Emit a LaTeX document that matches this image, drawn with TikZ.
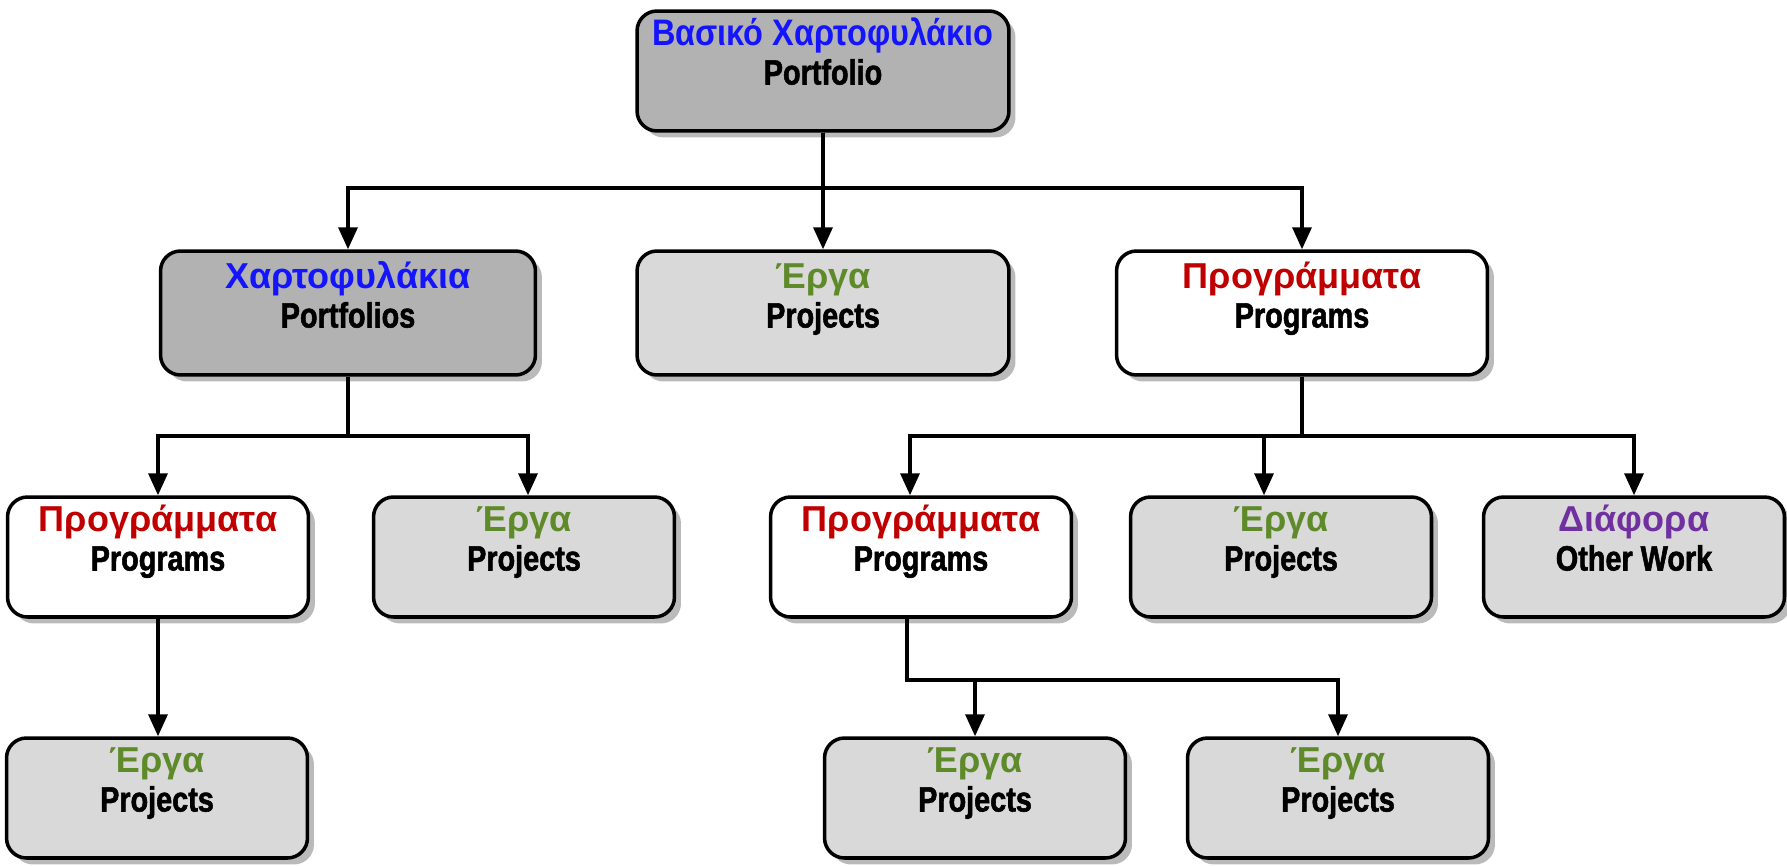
\documentclass[tikz,border=0pt]{standalone}
\usepackage{fontspec}
\setmainfont{Liberation Sans}
\newfontfamily\enfont[FakeStretch=0.82,BoldFeatures={FakeBold=1.6}]{Liberation Sans}
\newfontfamily\topfont[FakeStretch=0.88]{Liberation Sans}
\usetikzlibrary{arrows.meta,shadows}
\definecolor{grblue}{RGB}{20,20,255}
\definecolor{grred}{RGB}{192,0,0}
\definecolor{grgreen}{RGB}{94,138,42}
\definecolor{grpurple}{RGB}{112,48,160}
\definecolor{darkbox}{RGB}{178,178,178}
\definecolor{lightbox}{RGB}{217,217,217}
\newcommand\grtxt[2]{{\rmfamily\bfseries\fontsize{20.5}{22}\selectfont\color{#1}#2}}
\tikzset{
  box/.style={draw, line width=2pt, rounded corners=0.4cm,
    minimum width=6.02cm, minimum height=2.4cm, inner sep=0pt,
    align=center, text height=1.47cm, text depth=0.93cm,
    font=\enfont\bfseries\fontsize{20}{22}\selectfont,
    drop shadow={shadow xshift=0.13cm, shadow yshift=-0.13cm,
      fill=black!45, opacity=0.6}},
  bigbox/.style={box, fill=darkbox},
  prjbox/.style={box, fill=lightbox},
  prgbox/.style={box, fill=white},
  arr/.style={line width=2pt, -{Triangle[length=0.44cm,width=0.38cm]}}
}
\begin{document}
\begin{tikzpicture}[x=0.02cm,y=-0.02cm]
  \useasboundingbox (0,0) rectangle (1787,865);
  \node[bigbox, minimum width=7.44cm] (top) at (823,71)
    {{\topfont\fontsize{21}{22}\selectfont\color{grblue}Βασικό Χαρτοφυλάκιο}\\Portfolio};
  \node[bigbox, minimum width=7.5cm, minimum height=2.48cm, text height=1.53cm, text depth=0.95cm]
    (pf) at (348,313) {\grtxt{grblue}{Χαρτοφυλάκια}\\Portfolios};
  \node[prjbox, minimum width=7.44cm, minimum height=2.48cm, text height=1.53cm, text depth=0.95cm]
    (prjA) at (823,313) {\grtxt{grgreen}{Έργα}\\Projects};
  \node[prgbox, minimum width=7.42cm, minimum height=2.48cm, text height=1.53cm, text depth=0.95cm]
    (prgA) at (1302,313) {\grtxt{grred}{Προγράμματα}\\Programs};
  \node[prgbox] (prgB) at (158,557) {\grtxt{grred}{Προγράμματα}\\Programs};
  \node[prjbox] (prjB) at (524,557) {\grtxt{grgreen}{Έργα}\\Projects};
  \node[prgbox] (prgC) at (921,557) {\grtxt{grred}{Προγράμματα}\\Programs};
  \node[prjbox] (prjC) at (1281,557) {\grtxt{grgreen}{Έργα}\\Projects};
  \node[prjbox] (oth) at (1634,557) {\grtxt{grpurple}{Διάφορα}\\Other Work};
  \node[prjbox] (prjD) at (157,798) {\grtxt{grgreen}{Έργα}\\Projects};
  \node[prjbox] (prjE) at (975,798) {\grtxt{grgreen}{Έργα}\\Projects};
  \node[prjbox] (prjF) at (1338,798) {\grtxt{grgreen}{Έργα}\\Projects};
  \begin{scope}[arr]
    \draw (top.south) -- ++(0,55) -| (pf.north);
    \draw (top.south) -- (prjA.north);
    \draw (top.south) -- ++(0,55) -| (prgA.north);
    \draw (pf.south) -- ++(0,59) -| (prgB.north);
    \draw (pf.south) -- ++(0,59) -| ([xshift=0.08cm]prjB.north);
    \draw (prgA.south) -- ++(0,59) -| ([xshift=-0.22cm]prgC.north);
    \draw (prgA.south) -- ++(0,59) -| ([xshift=-0.34cm]prjC.north);
    \draw (prgA.south) -- ++(0,59) -| (oth.north);
    \draw (prgB.south) -- (prgB.south |- prjD.north);
    \draw ([xshift=-0.28cm]prgC.south) -- ++(0,61) -| (prjE.north);
    \draw ([xshift=-0.28cm]prgC.south) -- ++(0,61) -| (prjF.north);
  \end{scope}
\end{tikzpicture}
\end{document}
